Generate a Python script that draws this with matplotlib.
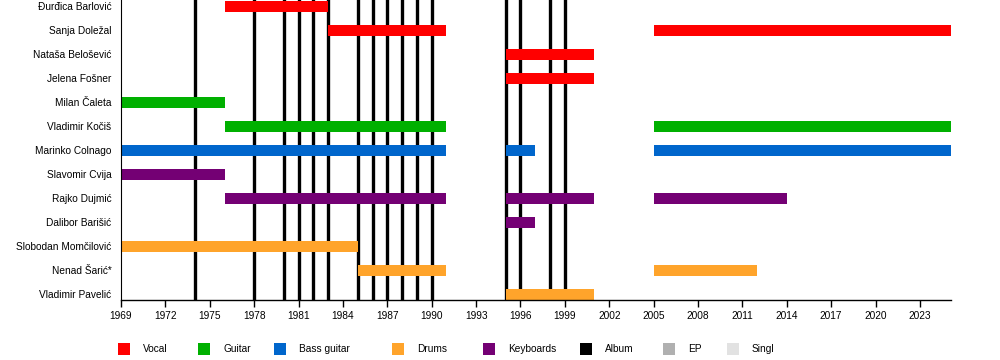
import matplotlib
matplotlib.use('Agg')
import matplotlib.pyplot as plt
from matplotlib.patches import Rectangle

plt.rcParams['font.family'] = ['Liberation Sans', 'DejaVu Sans']

# Članovi (odozgo prema dolje)
members = ['Đurđica Barlović', 'Sanja Doležal', 'Nataša Belošević', 'Jelena Fošner',
           'Milan Čaleta', 'Vladimir Kočiš', 'Marinko Colnago', 'Slavomir Cvija',
           'Rajko Dujmić', 'Dalibor Barišić', 'Slobodan Momčilović', 'Nenad Šarić*',
           'Vladimir Pavelić']

# Razdoblja u bendu
stint_member = ['Đurđica Barlović', 'Sanja Doležal', 'Sanja Doležal',
                'Nataša Belošević', 'Jelena Fošner', 'Milan Čaleta',
                'Vladimir Kočiš', 'Vladimir Kočiš',
                'Marinko Colnago', 'Marinko Colnago', 'Marinko Colnago',
                'Slavomir Cvija',
                'Rajko Dujmić', 'Rajko Dujmić', 'Rajko Dujmić',
                'Dalibor Barišić', 'Slobodan Momčilović',
                'Nenad Šarić*', 'Nenad Šarić*', 'Vladimir Pavelić']
stint_start = [1976, 1983, 2005, 1995, 1995, 1969, 1976, 2005, 1969, 1995, 2005,
               1969, 1976, 1995, 2005, 1995, 1969, 1985, 2005, 1995]
stint_end = [1983, 1991, 2025.1, 2001, 2001, 1976, 1991, 2025.1, 1991, 1997, 2025.1,
             1976, 1991, 2001, 2014, 1997, 1985, 1991, 2012, 2001]
stint_role = ['Vocal', 'Vocal', 'Vocal', 'Vocal', 'Vocal', 'Guitar', 'Guitar', 'Guitar',
              'Bass guitar', 'Bass guitar', 'Bass guitar', 'Keyboards',
              'Keyboards', 'Keyboards', 'Keyboards', 'Keyboards', 'Drums',
              'Drums', 'Drums', 'Drums']

# Albumi
albums = [1974, 1978, 1980, 1981, 1982, 1983, 1985, 1986, 1987, 1988, 1989, 1990,
          1995, 1996, 1998, 1999]

legend_labels = ['Vocal', 'Guitar', 'Bass guitar', 'Drums', 'Keyboards', 'Album', 'EP', 'Singl']
colors = {'Vocal': '#ff0000', 'Guitar': '#00b000', 'Bass guitar': '#0066cc',
          'Drums': '#ffa42b', 'Keyboards': '#740074', 'Album': '#000000',
          'EP': '#b0b0b0', 'Singl': '#e2e2e2'}
legend_x = [118, 198, 274, 392, 483, 580, 663, 727]  # pikseli

start_year = 1969
end_year = 2025.1

fig = plt.figure(figsize=(10, 3.6), dpi=100)
ax = fig.add_axes([0.121, 1 - 300 / 360, 0.83, 300 / 360])

for a in albums:
    ax.axvline(a, color='black', linewidth=2.4, zorder=1)

for m, s, e, r in zip(stint_member, stint_start, stint_end, stint_role):
    ax.barh(members.index(m), e - s, left=s, height=0.445, color=colors[r], zorder=2)

ax.set_xlim(start_year, end_year)
ax.set_ylim(12.24, -0.26)
ax.set_yticks(range(len(members)))
ax.set_yticklabels(members, fontsize=7.3)
ax.tick_params(axis='y', length=0, pad=7)
ax.set_xticks(range(1969, 2024, 3))
ax.tick_params(axis='x', labelsize=7.3, length=5, width=1, pad=3)
for sp in ['top', 'right']:
    ax.spines[sp].set_visible(False)
ax.spines['left'].set_linewidth(0.8)
ax.spines['bottom'].set_linewidth(1)

# Legenda
for lab, x in zip(legend_labels, legend_x):
    fig.patches.append(Rectangle((x / 1000, 1 - 355 / 360), 12 / 1000, 12 / 360,
                                 transform=fig.transFigure, color=colors[lab],
                                 linewidth=0))
    fig.text((x + 25) / 1000, 1 - 349 / 360, lab, fontsize=7.3, va='center', ha='left')

fig.savefig('out.png', dpi=100)
